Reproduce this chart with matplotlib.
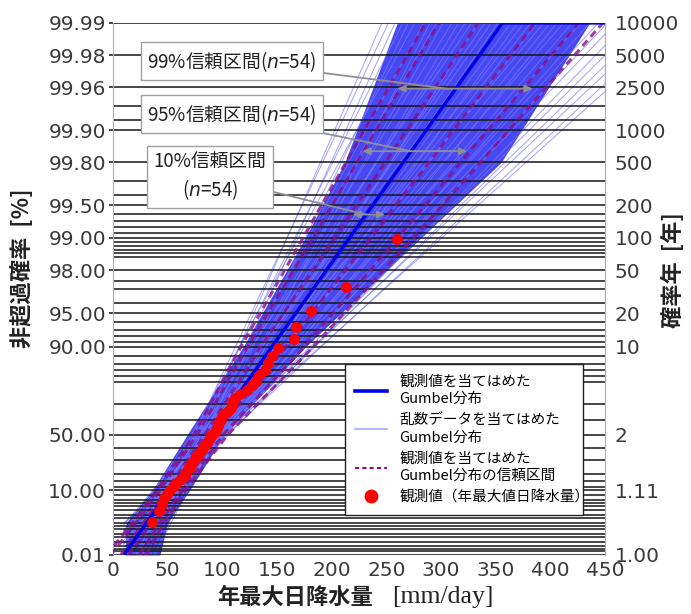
import numpy as np
import matplotlib
matplotlib.use('Agg')
import matplotlib.pyplot as plt
from matplotlib.lines import Line2D

plt.rcParams['font.family'] = ['Noto Sans CJK JP', 'DejaVu Sans']

# 観測値 年最大日降水量 (mm/day) 昇順, n=54
rain_obs = [36, 42, 45, 47, 49, 52, 56, 58, 61, 64, 66, 67, 69, 70, 71, 73, 74, 76,
            78, 80, 81, 82, 84, 86, 87, 89, 90, 92, 94, 95, 96, 97, 98, 100, 102, 105,
            108, 109, 110, 112, 116, 123, 127, 131, 134, 139, 142, 145, 151, 166, 167,
            181, 213, 260]

# 観測値を当てはめたGumbel分布
gumbel_loc = 77.2
gumbel_scale = 30.3

# 乱数データを当てはめたGumbel分布 (50%点と99.99%点の値)
fan_x50 = [80, 74, 85, 76, 90, 72, 82, 95, 76, 88, 78, 92, 84, 72, 98, 86, 80, 94, 76, 90,
           100, 83, 88, 96, 79, 92, 102, 86, 98, 90, 104, 94, 100, 96, 106, 99, 102, 97, 104, 100]
fan_x9999 = [246, 252, 258, 265, 270, 276, 284, 290, 296, 302, 310, 316, 322, 328, 334, 340,
             346, 352, 358, 364, 370, 376, 382, 388, 394, 400, 406, 412, 420, 428, 436, 444,
             452, 460, 470, 480, 490, 500, 510, 520]
fan_x_min = 10

# 乱数の分布が密な範囲
band_pct = [0.01, 1, 10, 50, 90, 99, 99.8, 99.99]
band_left = [11, 12, 36, 68, 119, 176, 212, 260]
band_right = [43, 50, 70, 102, 176, 282, 355, 436]

# 信頼区間
ci10_lo = [7, 28, 49, 84, 135, 203, 249, 334]
ci10_hi = [14, 35, 56, 93, 158, 236, 289, 386]
ci95_lo = [-2, 21, 43, 77, 123, 183, 223, 298]
ci95_hi = [24, 43, 63, 101, 175, 261, 318, 426]
ci99_lo = [-6, 18, 40, 74, 117, 174, 213, 286]
ci99_hi = [30, 47, 66, 105, 183, 275, 336, 448]

# 軸目盛
tick_pct = [0.01, 10, 50, 90, 95, 98, 99, 99.5, 99.8, 99.9, 99.96, 99.98, 99.99]
tick_left = ['0.01', '10.00', '50.00', '90.00', '95.00', '98.00', '99.00', '99.50',
             '99.80', '99.90', '99.96', '99.98', '99.99']
tick_right = ['1.00', '1.11', '2', '10', '20', '50', '100', '200', '500', '1000',
              '2500', '5000', '10000']
grid_pct = [0.01, 0.02, 0.03, 0.05, 0.1, 0.2, 0.3, 0.5, 0.7, 1, 1.5, 2, 3, 4, 5, 6, 8,
            10, 12, 15, 20, 30, 40, 50, 60, 70, 80, 82, 84, 86, 88, 90, 91, 92, 93, 94, 95,
            96, 97, 97.5, 98, 98.5, 98.6, 98.7, 98.8, 98.9, 99, 99.1, 99.2, 99.3, 99.4, 99.5,
            99.6, 99.7, 99.8, 99.9, 99.92, 99.94, 99.96, 99.98, 99.99]


def gumbel_y(pct):
    p = np.asarray(pct, dtype=float) / 100.0
    return -np.log(-np.log(p))


y_bot = gumbel_y(0.01)
y_top = gumbel_y(99.99)
y_mid = gumbel_y(50)

fig = plt.figure(figsize=(6.91, 6.14), dpi=100)
ax = fig.add_axes([0.1635, 0.0961, 0.712, 0.8665])
ax.set_xlim(0, 450)
ax.set_ylim(y_bot, y_top)

# 密な範囲
band_y = gumbel_y(band_pct)
ax.fill_betweenx(band_y, band_left, band_right, color='#4848f2', lw=0, zorder=1)

# 乱数データのGumbel分布
for xm, xt in zip(fan_x50, fan_x9999):
    b = (xt - xm) / (y_top - y_mid)
    ys = max(y_bot, y_mid + (fan_x_min - xm) / b)
    ax.plot([xm + b * (ys - y_mid), xt], [ys, y_top], color='#7878ff', lw=0.7,
            alpha=0.7, zorder=1.5)

# 格子線
for g in grid_pct:
    ax.axhline(gumbel_y(g), color='#151515', lw=1.1, zorder=2)

# 信頼区間
for lo, hi in [(ci10_lo, ci10_hi), (ci95_lo, ci95_hi), (ci99_lo, ci99_hi)]:
    for arr in (lo, hi):
        ax.plot(arr, band_y, color='#861088', lw=2.2, ls=(0, (2.4, 1.6)), alpha=0.8,
                zorder=3)

# 観測値のGumbel分布
fit_x = [gumbel_loc + gumbel_scale * y_bot, gumbel_loc + gumbel_scale * y_top, 450]
ax.plot(fit_x, [y_bot, y_top, y_top], color='#0000e6', lw=2.4, zorder=4,
        solid_capstyle='butt')

# 観測値 (Gringorten)
n = len(rain_obs)
rank = np.arange(1, n + 1)
pp = (rank - 0.44) / (n + 0.12) * 100
ax.plot(rain_obs, gumbel_y(pp), 'o', color='#ff0000', ms=7.8, mec='none', zorder=5)

# 軸
tick_y = gumbel_y(tick_pct)
ax.set_yticks(tick_y)
ax.set_yticklabels(tick_left, family='DejaVu Sans', fontsize=14.5, color='#3a3a3a')
ax.set_xticks(np.arange(0, 451, 50))
ax.set_xticklabels([str(v) for v in range(0, 451, 50)], family='DejaVu Sans',
                   fontsize=14.5, color='#3a3a3a')
ax.tick_params(axis='y', length=3, width=1.1, color='#151515', pad=2)
ax.tick_params(axis='x', length=0, pad=4)
for s in ('left', 'right'):
    ax.spines[s].set_color('#b0b0b0')
for s in ('top', 'bottom'):
    ax.spines[s].set_visible(False)

ax2 = ax.twinx()
ax2.set_ylim(y_bot, y_top)
ax2.set_yticks(tick_y)
ax2.set_yticklabels(tick_right, family='DejaVu Sans', fontsize=14.5, color='#3a3a3a')
ax2.tick_params(axis='y', length=0, pad=7)
for s in ('top', 'bottom', 'left'):
    ax2.spines[s].set_visible(False)
ax2.spines['right'].set_color('#b0b0b0')

# 軸ラベル
fig.text(22 / 691, 1 - 268 / 614, '非超過確率  [%]', rotation=90, ha='center', va='center',
         fontsize=16, fontweight='bold', color='#222222')
fig.text(673 / 691, 1 - 270 / 614, '確率年  [年]', rotation=90, ha='center', va='center',
         fontsize=16, fontweight='bold', color='#222222')
fig.text(373 / 691, 1 - 597 / 614, '年最大日降水量', ha='right', va='center',
         fontsize=16, fontweight='bold', color='#222222')
fig.text(392 / 691, 1 - 597 / 614, '[mm/day]', ha='left', va='center',
         family='Liberation Serif', fontsize=18.5, color='#222222')

# 注記
box = dict(boxstyle='square,pad=0.35', fc='white', ec='#a0a0a0', lw=1)
notes = [
    (r'99%信頼区間($\mathit{n}$=54)', 108.8, gumbel_y(99.9772), 260, 384, 305),
    (r'95%信頼区間($\mathit{n}$=54)', 108.8, gumbel_y(99.929), 228, 324, 272),
    ('10%信頼区間\n' + r'($\mathit{n}$=54)', 88.7, gumbel_y(99.73), 219, 249, 231),
]
arrow_y = [gumbel_y(99.959), gumbel_y(99.843), gumbel_y(99.39)]
for (txt, tx, ty, a0, a1, am), ay in zip(notes, arrow_y):
    ax.text(tx, ty, txt, ha='center', va='center', fontsize=13.5, color='#222222',
            bbox=box, zorder=7, linespacing=1.25)
    ax.plot([tx, am], [ty, ay], color='#909090', lw=1.3, zorder=6)
    ax.annotate('', xy=(a0, ay), xytext=(a1, ay), zorder=6,
                arrowprops=dict(arrowstyle='<|-|>,head_length=0.45,head_width=0.2',
                                color='#909090', lw=1.3, shrinkA=0, shrinkB=0))

# 凡例
handles = [
    Line2D([], [], color='#0000e6', lw=2.6),
    Line2D([], [], color='#a8a8ff', lw=1.2),
    Line2D([], [], color='#861088', lw=1.5, ls=(0, (2, 1.5))),
    Line2D([], [], color='#ff0000', marker='o', ls='none', ms=10, mec='none'),
]
labels = ['観測値を当てはめた\nGumbel分布', '乱数データを当てはめた\nGumbel分布',
          '観測値を当てはめた\nGumbel分布の信頼区間', '観測値（年最大値日降水量）']
leg = ax.legend(handles, labels, loc='lower left', bbox_to_anchor=(0.457, 0.062, 0.513, 0.31),
                mode='expand', fontsize=10.5, frameon=True, fancybox=False, framealpha=1,
                edgecolor='#222222', handlelength=2.2, labelspacing=0.5, borderpad=0.7,
                handletextpad=0.8)
for t in leg.get_texts():
    t.set_linespacing(1.3)
leg.get_frame().set_linewidth(1.0)
leg.set_zorder(8)

fig.savefig('out.png', dpi=100)
